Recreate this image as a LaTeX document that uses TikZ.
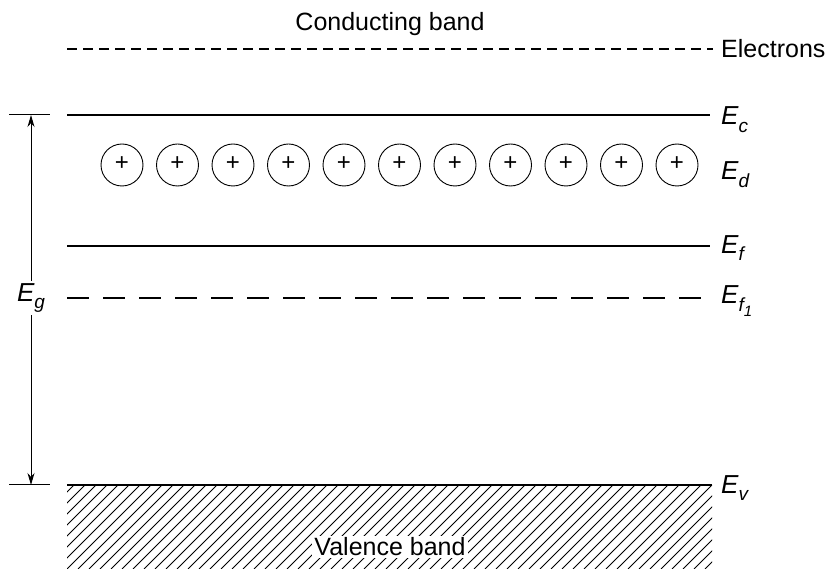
\documentclass[tikz,border=0pt]{standalone}
\usepackage{fontspec}
\setmainfont{Liberation Sans}
\usetikzlibrary{arrows.meta}
\newcommand{\subtxt}[1]{\raisebox{-0.3em}{\fontsize{19}{20}\selectfont #1}}
\newcommand{\subsubtxt}[1]{\raisebox{-0.25em}{\fontsize{15}{16}\selectfont #1}}
\begin{document}
\begin{tikzpicture}[x=1pt,y=-1pt,
  level/.style={line width=1.1pt},
  lbl/.style={anchor=west,inner sep=0pt,font=\fontsize{25}{28}\selectfont},
  elab/.style={anchor=west,inner sep=0pt,font=\fontsize{26}{28}\selectfont\itshape},
  donor/.style={circle,draw,line width=0.9pt,minimum size=42pt,inner sep=0pt,font=\fontsize{24}{24}\selectfont},
  hatch/.style={line width=0.8pt}]
\useasboundingbox (0,0) rectangle (831,569);
% conducting band
\node[font=\fontsize{25}{28}\selectfont,inner sep=0pt] (cb) at (390,24) {Conducting band};
\coordinate (el0) at (67,49);
\coordinate (el1) at (713,49);
\draw[line width=1.1pt,dash pattern=on 10pt off 6pt] (el0) -- (el1);
\node[lbl] (el) at (721,49) {Electrons};
% Ec
\coordinate (ec0) at (67,115);
\coordinate (ec1) at (710,115);
\draw[level] (ec0) -- (ec1);
\node[elab] (ec) at (721,120) {E\subtxt{c}};
% donors
\foreach \i in {0,...,10}{
  \node[donor] (d\i) at ({122+55.5*\i},165) {\raisebox{0.1em}{+}};
}
\node[elab] (ed) at (721,175) {E\subtxt{d}};
% Ef
\coordinate (ef0) at (67,246);
\coordinate (ef1) at (710,246);
\draw[level] (ef0) -- (ef1);
\node[elab] (ef) at (721,248) {E\subtxt{f}};
% Ef1
\coordinate (eg0) at (67,298);
\coordinate (eg1) at (710,298);
\draw[line width=1.1pt,dash pattern=on 22pt off 14pt] (eg0) -- (eg1);
\node[elab] (ef1l) at (721,301) {E\subtxt{f\subsubtxt{1}}};
% Ev
\coordinate (ev0) at (67,485);
\coordinate (ev1) at (712,485);
% hatching
\begin{scope}
  \clip (67,485) rectangle (712,569);
  \foreach \k in {-10,...,65}{
    \draw[hatch] ({67+11*\k},569) -- ({67+11*\k+84},485);
  }
\end{scope}
\draw[level] (ev0) -- (ev1);
\node[elab] (ev) at (721,488) {E\subtxt{v}};
\node[fill=white,inner sep=2pt,font=\fontsize{25}{28}\selectfont] (vb) at (390,547) {Valence band};
% gap arrow
\coordinate (t0) at (9,115);
\coordinate (t1) at (50,115);
\coordinate (b0) at (9,485);
\coordinate (b1) at (50,485);
\draw[line width=1pt] (t0) -- (t1);
\draw[line width=1pt] (b0) -- (b1);
\coordinate (at) at (31,115);
\coordinate (ab) at (31,485);
\draw[line width=1pt,{Stealth[length=12pt,width=7pt]}-{Stealth[length=12pt,width=7pt]}] (at) -- (ab);
\node[fill=white,inner sep=2pt,font=\fontsize{26}{28}\selectfont\itshape] (eg) at (31,298) {E\subtxt{g}};
\end{tikzpicture}
\end{document}
